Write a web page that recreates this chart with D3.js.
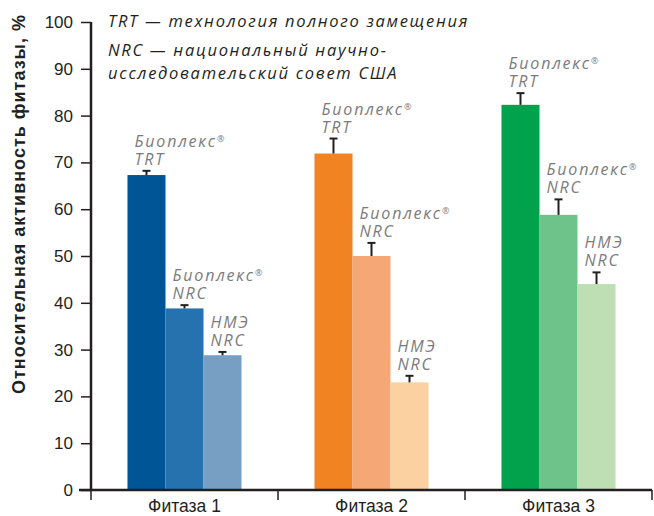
<!DOCTYPE html>
<html>
<head>
<meta charset="utf-8">
<script src="https://cdn.jsdelivr.net/npm/d3@7"></script>
<style>
  html, body { margin: 0; padding: 0; background: #fff; }
  svg { display: block; }
</style>
</head>
<body>
<svg id="chart" width="654" height="516"></svg>
<script>
// Phytase groups and product series
const groups = ["Фитаза 1", "Фитаза 2", "Фитаза 3"];
const seriesKeys = ["bioTRT", "bioNRC", "nmeNRC"];
const seriesNameTop = ["Биоплекс", "Биоплекс", "НМЭ"];
const seriesNameBottom = ["TRT", "NRC", "NRC"];
const seriesRegistered = [true, true, false];

// Relative phytase activity, % (rows: series, columns: groups)
const valuesBioTRT = [67.3, 71.9, 82.3];
const valuesBioNRC = [38.8, 50.0, 58.8];
const valuesNmeNRC = [28.8, 23.0, 44.0];
// Upper error bar extents
const errBioTRT = [0.9, 3.2, 2.5];
const errBioNRC = [0.7, 2.8, 3.3];
const errNmeNRC = [0.7, 1.4, 2.5];

const yTicks = [0, 10, 20, 30, 40, 50, 60, 70, 80, 90, 100];

const legendLines = [
  "TRT — технология полного замещения",
  "NRC — национальный научно-",
  "исследовательский совет США"
];
const yTitle = "Относительная активность фитазы, %";

const palette = [
  ["#005596", "#2672ae", "#779fc4"],
  ["#f28322", "#f5a776", "#fcd1a2"],
  ["#00a34c", "#6ec38a", "#bddfb3"]
];

const valueRows = [valuesBioTRT, valuesBioNRC, valuesNmeNRC];
const errRows = [errBioTRT, errBioNRC, errNmeNRC];

const data = [];
groups.forEach((g, gi) => {
  seriesKeys.forEach((s, si) => {
    data.push({
      group: g, gi, series: s, si,
      value: valueRows[si][gi],
      err: errRows[si][gi],
      color: palette[gi][si]
    });
  });
});

const svg = d3.select("#chart");
const plotLeft = 91, plotRight = 652, plotTop = 22, plotBottom = 490;

const x0 = d3.scaleBand().domain(groups).range([plotLeft, plotRight]).padding(0);
const x1 = d3.scaleBand().domain(seriesKeys).range([0, x0.bandwidth()])
  .paddingInner(0).paddingOuter(0.96);
const y = d3.scaleLinear().domain([0, 100]).range([plotBottom, plotTop]);

const ink = "#231f20";

// Bars
svg.append("g").selectAll("rect").data(data).join("rect")
  .attr("x", d => x0(d.group) + x1(d.series))
  .attr("y", d => y(d.value))
  .attr("width", x1.bandwidth())
  .attr("height", d => y(0) - y(d.value))
  .attr("fill", d => d.color);

// Upper error whiskers
const eb = svg.append("g").attr("stroke", ink).attr("stroke-width", 2);
data.forEach(d => {
  const cx = x0(d.group) + x1(d.series) + x1.bandwidth() / 2;
  eb.append("line").attr("x1", cx).attr("x2", cx)
    .attr("y1", y(d.value)).attr("y2", y(d.value + d.err));
  eb.append("line").attr("x1", cx - 4).attr("x2", cx + 4)
    .attr("y1", y(d.value + d.err)).attr("y2", y(d.value + d.err));
});

// Series labels above each bar
const lab = svg.append("g")
  .attr("font-family", "'Open Sans', sans-serif")
  .attr("font-style", "italic")
  .attr("font-size", 16)
  .attr("fill", "#7b7b7d");
data.forEach(d => {
  const lx = x0(d.group) + x1(d.series) + 7;
  const ly = y(d.value + d.err) - 6;
  const t1 = lab.append("text").attr("x", lx).attr("y", ly - 18)
    .attr("letter-spacing", 1.8);
  t1.append("tspan").text(seriesNameTop[d.si]);
  if (seriesRegistered[d.si]) {
    t1.append("tspan").attr("font-size", 9).attr("font-style", "normal")
      .attr("letter-spacing", 0).attr("dx", 0).attr("dy", -5).text("®");
  }
  lab.append("text").attr("x", lx).attr("y", ly)
    .attr("letter-spacing", 1.8).text(seriesNameBottom[d.si]);
});

// Y axis
const yAxis = svg.append("g")
  .attr("transform", `translate(${plotLeft},0)`)
  .call(d3.axisLeft(y).tickValues(yTicks).tickSize(10).tickPadding(8).tickFormat(d3.format("d")));
yAxis.select(".domain").attr("stroke", ink).attr("stroke-width", 2.5)
  .attr("d", `M0,${plotTop}V${plotBottom}`);
yAxis.selectAll(".tick line").attr("stroke", ink).attr("stroke-width", 1.5);
yAxis.selectAll(".tick text")
  .attr("font-family", "'Liberation Sans', Arial, sans-serif")
  .attr("font-size", 17).attr("fill", ink);

// X axis with separators between groups
const xAxisG = svg.append("g").attr("transform", `translate(0,${plotBottom})`);
xAxisG.append("line").attr("x1", plotLeft - 12).attr("x2", plotRight)
  .attr("stroke", ink).attr("stroke-width", 2.5);
const edges = groups.map(g => x0(g)).concat([x0(groups[groups.length - 1]) + x0.bandwidth()]);
xAxisG.selectAll("line.sep").data(edges).join("line").attr("class", "sep")
  .attr("x1", d => d).attr("x2", d => d).attr("y1", 0).attr("y2", 10)
  .attr("stroke", ink).attr("stroke-width", 1.5);
xAxisG.selectAll("text").data(groups).join("text")
  .attr("x", d => x0(d) + x0.bandwidth() / 2)
  .attr("y", 22)
  .attr("text-anchor", "middle")
  .attr("font-family", "'Liberation Sans', Arial, sans-serif")
  .attr("font-size", 17.5).attr("fill", ink)
  .text(d => d);

// Y axis title
svg.append("text")
  .attr("transform", "translate(25,204) rotate(-90)")
  .attr("text-anchor", "middle")
  .attr("font-family", "'Liberation Sans', Arial, sans-serif")
  .attr("font-weight", "bold")
  .attr("font-size", 18)
  .attr("letter-spacing", 1)
  .attr("fill", ink)
  .text(yTitle);

// Abbreviation notes
const notes = svg.append("g")
  .attr("font-family", "'Open Sans', sans-serif")
  .attr("font-style", "italic")
  .attr("font-size", 16.5)
  .attr("letter-spacing", 1.7)
  .attr("fill", ink);
const noteY = [27, 56, 79];
legendLines.forEach((t, i) => {
  notes.append("text").attr("x", 108).attr("y", noteY[i]).text(t);
});
</script>
</body>
</html>
